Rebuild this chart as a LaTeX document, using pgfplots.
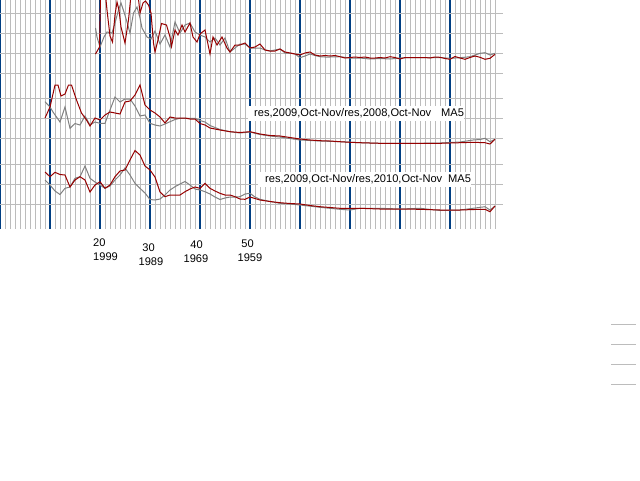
\documentclass[border=0pt]{standalone}
\usepackage{pgfplots}
\pgfplotsset{compat=1.18}
\usepackage{fontspec}
\setmainfont{Liberation Sans}
\definecolor{gridgray}{RGB}{188,188,188}
\definecolor{gridblue}{RGB}{0,62,130}
\definecolor{sred}{RGB}{150,0,0}
\definecolor{sgray}{RGB}{128,128,128}
\begin{document}
\fontsize{11.1}{13}\selectfont
\begin{tikzpicture}
\useasboundingbox (0,0) rectangle (640pt,-480pt);
\begin{axis}[
  at={(0pt,0pt)}, anchor=north west,
  scale only axis, width=503pt, height=229pt,
  xmin=0, xmax=503, ymin=0, ymax=229, y dir=reverse,
  axis line style={draw=none},
  xtick={0,50,...,450}, minor xtick={5,10,...,495},
  ytick={13.3,33.3,53.3,73.3,98.3,118.3,138.3,164.3,184.3,204.3},
  xticklabels={}, yticklabels={},
  xtick style={draw=none}, ytick style={draw=none},
  minor tick style={draw=none},
  xmajorgrids, xminorgrids, ymajorgrids,
  major x grid style={gridblue, line width=1.3pt},
  minor x grid style={gridgray, line width=1pt},
  major y grid style={gridgray, line width=1pt},
  clip mode=individual,
  every axis plot/.append style={line width=1pt, mark=none},
]
% ---------- panel 1 ----------
\addplot[sgray] coordinates {
(95.5,28) (97,37) (100,47) (104,37) (107,32) (112,33) (115,23) (118.5,10) (121,3) (124,12) (127,22) (130,33) (133.5,13) (137,7) (140,18) (142,28) (147,37) (151,39) (155,31) (160,44) (165,35) (170,47) (175,22) (180,33) (185,25) (190,23) (195,32) (200,35) (205,37) (210,42) (215,38) (220,45) (225,38) (230,52) (235,48) (240,44) (245,44) (250,48) (255,48) (260,48) (265,50) (270,51) (275,50) (280,49) (285,53) (290,53) (295,54) (300,57.7) (305,56) (310,54) (315,55.5) (320,56.7) (325,57) (330,57) (340,56.7) (350,58) (360,58) (370,59) (380,58.5) (390,59) (400,58) (410,57.5) (420,57.7) (430,57.5) (440,57.5) (450,58.3) (460,57.7) (470,56.7) (475,55) (480,53.3) (485,52.7) (490,55) (495,53.3)
};
\addplot[sred] coordinates {
(95.5,54) (99.5,47) (101,-30) (104,-20) (107,10) (110,36) (112.5,42) (115,15) (117,2) (119,10) (121,27) (125,43) (128.5,20) (131,-5) (134,-10) (137,-15) (140,13) (143,3) (145.5,1) (148.5,5) (151,13) (153.5,43) (155,52) (158,40) (161.5,23.5) (166.5,25) (170,37) (171.5,46.5) (175,30) (178,35) (182,25) (185,32) (190,23) (193,37) (197,42) (200,34) (205,30) (210,54) (213,37) (217,45) (222,37) (227,48) (230,52) (235,45) (240,45) (245,43) (250,48) (255,47) (260,44) (265,50) (270,51) (275,51) (280,49) (285,52) (290,53) (295,54) (300,55) (305,53) (310,52) (315,55) (320,56) (325,55.5) (330,56) (335,55.5) (340,56.7) (345,58) (350,57.5) (355,57) (360,57.5) (365,57) (370,58) (375,58) (380,57.5) (385,58) (390,56.7) (395,57.5) (400,59) (405,57.5) (410,57.5) (415,57.5) (420,57.5) (425,57.5) (430,58) (435,57) (440,57.3) (445,58.5) (450,59.3) (455,56.5) (460,58) (465,59.3) (470,57.5) (475,56) (480,57.3) (485,59.3) (490,58.3) (495,54.3)
};
% ---------- panel 2 ----------
\addplot[sgray] coordinates {
(45,101.7) (50,107) (53,112) (60,122) (65,107) (70,128.3) (75,123.5) (80,125) (85,116) (90,125) (95,122) (100,123.3) (105,123.3) (110,110) (115,97) (120,102) (125,99) (130,99) (135,106) (140,116) (145,115) (150,123.3) (155,125) (160,126) (165,124) (170,121.7) (175,119.5) (180,118.3) (185,118.3) (190,118.3) (195,118.3) (200,120.5) (205,122) (210,125.5) (220,129.5) (230,131.7) (240,133) (250,132) (260,134.5) (270,136) (280,137) (290,138.5) (300,140) (310,140.5) (320,141) (340,141.7) (360,142.7) (380,143.3) (400,143.3) (420,143.3) (440,143) (460,142) (473,140) (480,139.5) (485,138.3) (490,141.7) (495,139.3)
};
\addplot[sred] coordinates {
(45,118) (50,107) (55,85) (58,85) (61,96) (65,94) (68.5,85) (71.5,85) (76.5,100) (81.5,113) (86.5,120) (90,126) (95,118) (100,120) (105,115) (110,112) (115,113) (120,114) (125,102) (130,101) (135,95) (140,85) (145,105) (150,110) (155,113) (160,117) (165,123) (170,117) (175,118) (180,118) (185,118) (190,119) (195,119) (200,123.5) (205,125) (210,128) (220,130) (230,131.7) (240,132.5) (250,131.7) (260,134) (270,135.5) (280,136) (290,137.5) (300,139) (310,140) (320,140.7) (330,141) (340,141.7) (350,142.3) (360,142.7) (380,143.3) (400,143.3) (420,143.3) (440,143.3) (460,142.7) (473,142.3) (485,142.7) (490,144) (495,139.3)
};
% ---------- panel 3 ----------
\addplot[sgray] coordinates {
(45,180) (50,185) (55,191) (60,194.5) (65,188.3) (70,187) (75,178.3) (80,176.7) (85,166) (90,178.3) (95,182) (100,185) (105,188.3) (110,186) (115,180) (120,175) (125,168) (130,175) (135,183.3) (140,188.3) (145,193) (150,199.5) (155,200) (160,199) (165,195) (170,190) (175,186.7) (180,184) (185,181.5) (190,185) (195,189) (200,190) (205,191.7) (210,194) (215,197) (220,199.5) (225,198) (230,197) (235,197) (240,196.7) (245,194) (250,193.3) (255,197) (260,199.3) (270,201.5) (280,203.3) (290,204) (300,205) (320,207.3) (340,209.3) (350,210) (360,208.3) (380,208.3) (400,209) (420,208.3) (440,210.5) (460,210) (473,208.3) (485,206.7) (490,210) (495,206)
};
\addplot[sred] coordinates {
(45,172) (50,176.7) (55,172.3) (60,174.5) (65,175) (70,187) (75,180) (80,176.7) (85,180) (90,192) (95,185) (100,181.7) (105,188.3) (110,185) (115,176.7) (120,171) (125,170) (130,160) (135,150.5) (140,155) (145,166) (150,170) (155,177) (160,192) (165,196.7) (170,195) (175,195) (180,195) (185,191.7) (190,189) (195,187) (200,188.3) (205,183.3) (210,188.3) (215,191) (220,193.3) (225,195) (230,195) (235,196.7) (240,199) (245,199.3) (250,197) (255,198.5) (260,200) (270,201.5) (280,202.7) (290,203.5) (300,204) (310,205.5) (320,206.7) (330,207.5) (340,208.3) (360,208.3) (380,209) (400,209) (420,209.3) (440,210) (460,210) (480,209.3) (485,209.3) (490,211.7) (495,206)
};
% ---------- labels ----------
\node[fill=white, inner xsep=0pt, inner ysep=0pt, minimum height=15pt, anchor=west]
  at (axis cs:248,113.3) {\hspace{6pt}res,2009,Oct-Nov/res,2008,Oct-Nov\hspace{10pt}MA5\hspace{2pt}};
\node[fill=white, inner xsep=0pt, inner ysep=0pt, minimum height=15pt, anchor=west]
  at (axis cs:258,179.2) {\hspace{7pt}res,2009,Oct-Nov/res,2010,Oct-Nov\hspace{6pt}MA5\hspace{6pt}};
% ---------- x tick labels ----------
\node[anchor=west, inner sep=0pt] at (axis cs:93,243) {20};
\node[anchor=west, inner sep=0pt] at (axis cs:93,257) {1999};
\node[inner sep=0pt] at (axis cs:148.5,248) {30};
\node[inner sep=0pt] at (axis cs:151,261.5) {1989};
\node[inner sep=0pt] at (axis cs:196.5,245) {40};
\node[inner sep=0pt] at (axis cs:196,258.5) {1969};
\node[inner sep=0pt] at (axis cs:247.5,244) {50};
\node[inner sep=0pt] at (axis cs:250,257.5) {1959};
\end{axis}
% ---------- small grid at bottom right ----------
\begin{axis}[
  at={(611pt,-324.3pt)}, anchor=north west,
  scale only axis, width=25pt, height=60pt,
  xmin=0, xmax=1, ymin=0, ymax=60, y dir=reverse,
  axis line style={draw=none},
  xtick=\empty, ytick={0,20,40,60}, yticklabels={},
  ytick style={draw=none},
  ymajorgrids, major y grid style={gridgray, line width=1pt},
]
\end{axis}
\end{tikzpicture}
\end{document}
